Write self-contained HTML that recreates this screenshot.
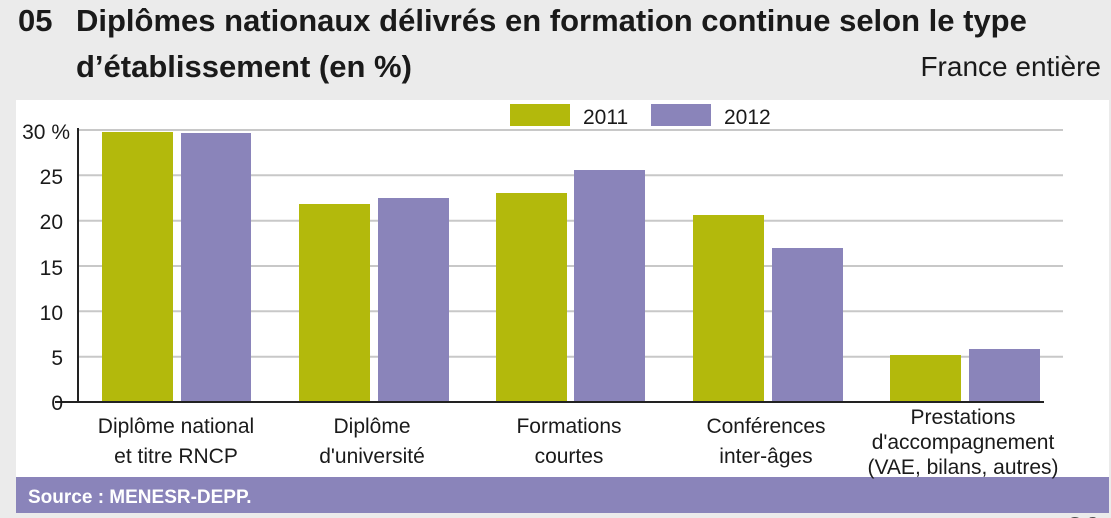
<!DOCTYPE html>
<html><head><meta charset="utf-8"><style>
body{margin:0;width:1111px;height:518px;background:#ebebeb;overflow:hidden;position:relative;font-family:"Liberation Sans",sans-serif;}
.t{position:absolute;font-weight:bold;font-size:31px;color:#1a1a1a;}
</style></head><body>
<div class="t" style="left:18px;top:3px">05</div>
<div class="t" style="left:76px;top:3px">Diplômes nationaux délivrés en formation continue selon le type</div>
<div class="t" style="left:76px;top:49px">d’établissement (en %)</div>
<div style="position:absolute;right:10px;top:51px;font-size:28px;color:#1a1a1a">France entière</div>
<svg style="position:absolute;left:0;top:0" width="1111" height="518">
<rect x="16" y="100" width="1093" height="378" fill="#fff"/>
<rect x="16" y="477" width="1093" height="36" fill="#8a84ba"/>
<text x="28" y="503" font-family="Liberation Sans" font-weight="bold" font-size="19" fill="#fff">Source : MENESR-DEPP.</text>
<g stroke="#c8c8c8" stroke-width="2">
<line x1="78" x2="1063" y1="130" y2="130"/><line x1="78" x2="1063" y1="175.3" y2="175.3"/>
<line x1="78" x2="1063" y1="220.7" y2="220.7"/><line x1="78" x2="1063" y1="266" y2="266"/>
<line x1="78" x2="1063" y1="311.3" y2="311.3"/><line x1="78" x2="1063" y1="356.7" y2="356.7"/>
</g>
<g fill="#b3b90c">
<rect x="102" y="132" width="71" height="270"/><rect x="299" y="204" width="71" height="198"/>
<rect x="496" y="193" width="71" height="209"/><rect x="693" y="215" width="71" height="187"/>
<rect x="890" y="355" width="71" height="47"/>
<rect x="510" y="104" width="60" height="22"/>
</g>
<g fill="#8a84ba">
<rect x="181" y="133" width="70" height="269"/><rect x="378" y="198" width="71" height="204"/>
<rect x="574" y="170" width="71" height="232"/><rect x="772" y="248" width="71" height="154"/>
<rect x="969" y="349" width="71" height="53"/>
<rect x="651" y="104" width="60" height="22"/>
</g>
<line x1="78" y1="128" x2="78" y2="402" stroke="#222" stroke-width="2"/>
<line x1="55" y1="402" x2="1044" y2="402" stroke="#222" stroke-width="2"/>
<g font-family="Liberation Sans" font-size="21" fill="#1a1a1a" text-anchor="end">
<text x="70" y="139">30 %</text><text x="63" y="184">25</text><text x="63" y="229">20</text>
<text x="63" y="275">15</text><text x="63" y="320">10</text><text x="63" y="365">5</text><text x="63" y="410">0</text>
</g>
<g font-family="Liberation Sans" font-size="21" fill="#1a1a1a">
<text x="583" y="124">2011</text><text x="724" y="124">2012</text>
</g>
<g font-family="Liberation Sans" font-size="21" fill="#1a1a1a" text-anchor="middle">
<text x="176" y="433">Diplôme national</text><text x="176" y="463">et titre RNCP</text>
<text x="372" y="433">Diplôme</text><text x="372" y="463">d'université</text>
<text x="569" y="433">Formations</text><text x="569" y="463">courtes</text>
<text x="766" y="433">Conférences</text><text x="766" y="463">inter-âges</text>
<text x="963" y="424">Prestations</text><text x="963" y="449">d'accompagnement</text><text x="963" y="474">(VAE, bilans, autres)</text>
</g>
<text x="1066" y="540" font-family="Liberation Sans" font-weight="bold" font-size="32" fill="#1a1a1a">20</text>
</svg>
</body></html>
